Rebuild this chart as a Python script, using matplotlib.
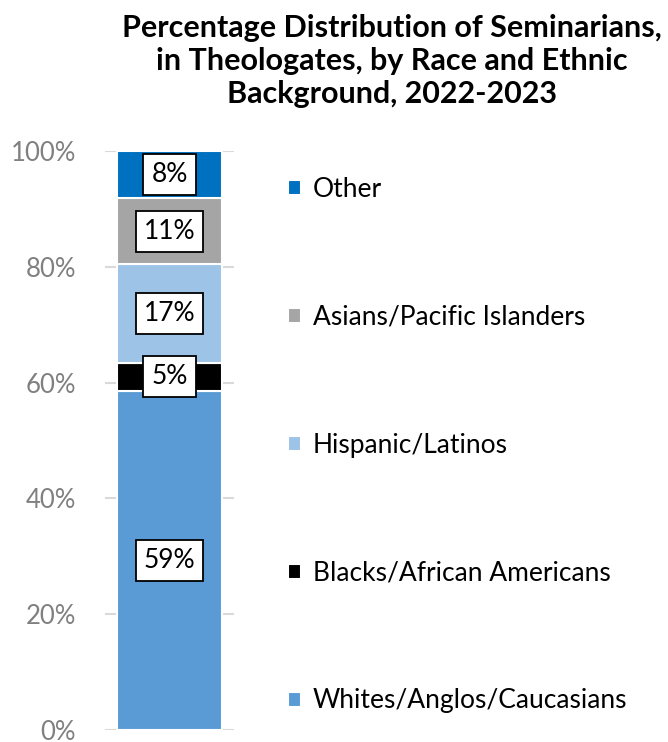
import numpy as np
from matplotlib import pyplot as plt

plt.rcParams.update(
    {
        "font.family": ["Lato", "DejaVu Sans"],
        "font.size": 19,
    }
)

# data (bottom to top of the stack)
groups = [
    "Whites/Anglos/Caucasians",
    "Blacks/African Americans",
    "Hispanic/Latinos",
    "Asians/Pacific Islanders",
    "Other",
]
shares = [58.6, 4.8, 17.0, 11.4, 8.2]
colors = ["#5B9BD5", "#000000", "#9DC3E6", "#A5A5A5", "#0070C0"]
yticks = [0, 20, 40, 60, 80, 100]

W, H = 6.68, 7.42
fig = plt.figure(figsize=(W, H), dpi=100)
ax = fig.add_axes([105 / 668, 12 / 742, 129 / 668, 579 / 742])

bottoms = np.concatenate([[0], np.cumsum(shares)[:-1]])
bars = []
for grp, val, bot, col in zip(groups, shares, bottoms, colors):
    b = ax.bar(0, val, bottom=bot, width=0.814, color=col,
               edgecolor="white", linewidth=1.5, label=grp, zorder=2)
    bars.append(b)
    ax.text(0, bot + val / 2, f"{val:.0f}%", ha="center", va="center",
            fontsize=19, color="black", zorder=3,
            bbox=dict(boxstyle="square,pad=0.3", fc="white", ec="black", lw=1.3))

ax.set_xlim(-0.5, 0.5)
ax.set_ylim(0, 100)
ax.set_yticks(yticks)
ax.yaxis.set_major_formatter("{x:.0f}%")
ax.set_xticks([])
ax.tick_params(axis="y", length=0, pad=21, colors="#808080", labelsize=18.5)
ax.grid(axis="y", color="#D9D9D9", linewidth=1.5, zorder=0)
ax.set_axisbelow(True)
for s in ax.spines.values():
    s.set_visible(False)

handles = [b[0] for b in bars][::-1]
labels = groups[::-1]
fig.legend(handles, labels, loc="upper left", bbox_to_anchor=(264 / 668, 1 - 153 / 742),
           frameon=False, fontsize=19, handlelength=0.5, handleheight=0.5,
           handletextpad=0.45, labelspacing=3.9)

fig.text(392 / 668, 1 - 14 / 742,
         "Percentage Distribution of Seminarians,\nin Theologates, by Race and Ethnic\nBackground, 2022-2023",
         ha="center", va="top", fontsize=22, fontweight="bold", linespacing=1.22)

fig.savefig("out.png", dpi=100)
